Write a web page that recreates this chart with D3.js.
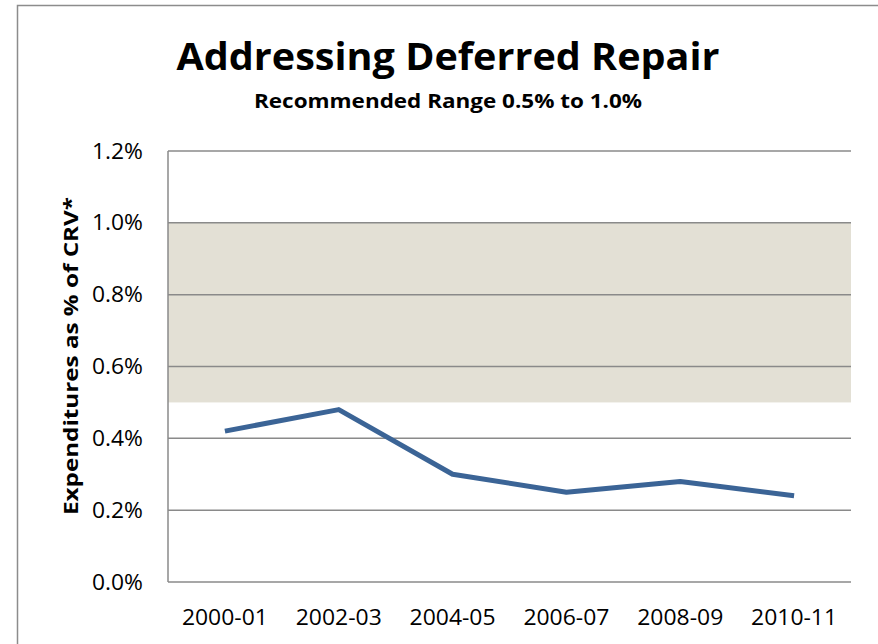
<!DOCTYPE html>
<html><head><meta charset="utf-8">
<script src="https://cdn.jsdelivr.net/npm/d3@7"></script>
<style>body{margin:0;background:#fff}svg{display:block}</style>
</head><body>
<script>
const categories = ["2000-01","2002-03","2004-05","2006-07","2008-09","2010-11"];
const values = [0.42, 0.48, 0.30, 0.25, 0.28, 0.24];
const yTicks = [0, 0.2, 0.4, 0.6, 0.8, 1.0, 1.2];
const range = [0.5, 1.0];
const titleText = "Addressing Deferred Repair";
const subtitleText = "Recommended Range 0.5% to 1.0%";
const yTitle = "Expenditures as % of CRV*";

const W = 878, H = 644;
const font = "'Open Sans', 'Liberation Sans', sans-serif";
const svg = d3.select("body").append("svg").attr("width", W).attr("height", H);

// outer frame
svg.append("path").attr("d", `M17.5,${H} L17.5,5.5 L${W},5.5`).attr("fill","none").attr("stroke","#8c8c8c").attr("stroke-width",1.5);

const L = 168, R = 851, T = 151, B = 582;
const x = d3.scaleBand().domain(categories).range([L, R]);
const y = d3.scaleLinear().domain([0, 1.2]).range([B, T]);

// recommended range band
svg.append("rect").attr("x", L).attr("width", R - L)
  .attr("y", y(range[1])).attr("height", y(range[0]) - y(range[1]))
  .attr("fill", "#e3e0d5");

// gridlines
svg.append("g").selectAll("line").data(yTicks.filter(d => d > 0)).join("line")
  .attr("x1", L).attr("x2", R).attr("y1", d => y(d)).attr("y2", d => y(d))
  .attr("stroke", "#8a8a8a").attr("stroke-width", 1.5);

// axes lines
svg.append("line").attr("x1", L).attr("x2", L).attr("y1", T).attr("y2", B).attr("stroke","#8a8a8a").attr("stroke-width",1.5);
svg.append("line").attr("x1", L).attr("x2", R).attr("y1", B).attr("y2", B).attr("stroke","#8a8a8a").attr("stroke-width",1.5);

// y tick labels
svg.append("g").selectAll("text").data(yTicks).join("text")
  .attr("x", 143).attr("y", d => y(d) + 7.5)
  .attr("text-anchor", "end").attr("font-family", font).attr("font-size", 21).attr("fill","#000")
  .attr("textLength", 51).attr("lengthAdjust","spacingAndGlyphs")
  .text(d => d3.format(".1f")(d) + "%");

// x tick labels
svg.append("g").selectAll("text").data(categories).join("text")
  .attr("x", d => x(d) + x.bandwidth()/2).attr("y", 625)
  .attr("text-anchor", "middle").attr("font-family", font).attr("font-size", 21).attr("fill","#000")
  .attr("textLength", 86).attr("lengthAdjust","spacingAndGlyphs")
  .text(d => d);

// line
const line = d3.line().x((d,i) => x(categories[i]) + x.bandwidth()/2).y(d => y(d));
svg.append("path").datum(values).attr("d", line)
  .attr("fill","none").attr("stroke","#3b6496").attr("stroke-width",5).attr("stroke-linejoin","round");

// titles
svg.append("text").attr("x", 448).attr("y", 70).attr("text-anchor","middle")
  .attr("font-family", font).attr("font-weight","bold").attr("font-size", 38)
  .attr("textLength", 543).attr("lengthAdjust","spacingAndGlyphs").text(titleText);
svg.append("text").attr("x", 448).attr("y", 108).attr("text-anchor","middle")
  .attr("font-family", font).attr("font-weight","bold").attr("font-size", 20)
  .attr("textLength", 388).attr("lengthAdjust","spacingAndGlyphs").text(subtitleText);

svg.append("text").attr("transform","translate(78,356) rotate(-90)").attr("text-anchor","middle")
  .attr("font-family", font).attr("font-weight","bold").attr("font-size", 20)
  .attr("textLength", 318).attr("lengthAdjust","spacingAndGlyphs").text(yTitle);
</script>
</body></html>
